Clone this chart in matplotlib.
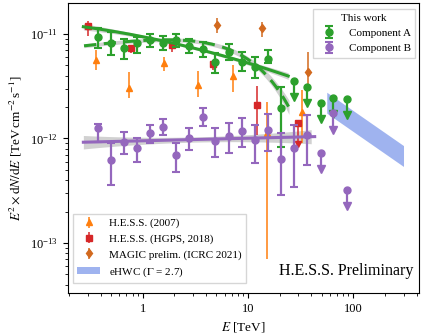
import numpy as np
import matplotlib
matplotlib.use("Agg")
from matplotlib import pyplot as plt
from matplotlib.patches import Patch

plt.rcParams['font.family'] = ['Liberation Serif', 'DejaVu Serif']
plt.rcParams['mathtext.fontset'] = 'stix'
plt.rcParams['font.size'] = 9

# ---- this work: component A (flux points, E^2 dN/dE in TeV cm^-2 s^-1)
e_a = [0.374, 0.497, 0.664, 0.877, 1.17, 1.57, 2.07, 2.77, 3.71, 4.89, 6.55, 8.77, 11.75, 15.6, 20.6]
f_a = [9.42e-12, 8.15e-12, 7.30e-12, 8.15e-12, 8.76e-12, 8.26e-12, 8.76e-12, 7.68e-12,
       7.14e-12, 5.36e-12, 6.77e-12, 5.43e-12, 4.86e-12, 5.73e-12, 1.95e-12]
f_a_hi = [1.134e-11, 1.052e-11, 8.90e-12, 9.42e-12, 1.0e-11, 9.57e-12, 1.0e-11, 8.90e-12,
          8.44e-12, 6.62e-12, 8.02e-12, 6.77e-12, 5.98e-12, 7.03e-12, 3.13e-12]
f_a_lo = [7.30e-12, 6.30e-12, 5.73e-12, 6.62e-12, 7.56e-12, 7.03e-12, 7.56e-12, 6.54e-12,
          6.06e-12, 4.26e-12, 5.64e-12, 4.43e-12, 3.77e-12, 5.24e-12, 8.2e-13]
e_a_ul = [27.5, 36.3, 49.0, 64.6, 86.5]
f_a_ul = [3.55e-12, 3.11e-12, 2.20e-12, 2.43e-12, 2.39e-12]

# ---- this work: component B
e_b = [0.374, 0.497, 0.664, 0.877, 1.17, 1.57, 2.07, 2.77, 3.71, 4.89, 6.55, 8.77, 11.75,
       15.6, 20.6, 27.5, 36.3]
f_b = [1.25e-12, 6.23e-13, 9.19e-13, 8.06e-13, 1.12e-12, 1.30e-12, 6.95e-13, 1.0e-12,
       1.62e-12, 9.53e-13, 1.06e-12, 1.19e-12, 9.68e-13, 1.21e-12, 6.32e-13, 8.06e-13, 1.08e-12]
f_b_hi = [1.38e-12, 8.99e-13, 1.147e-12, 1.0e-12, 1.35e-12, 1.53e-12, 9.12e-13, 1.25e-12,
          1.95e-12, 1.25e-12, 1.40e-12, 1.56e-12, 1.35e-12, 1.72e-12, 1.12e-12, 1.35e-12, 1.68e-12]
f_b_lo = [9.3e-13, 3.59e-13, 7.06e-13, 6.0e-13, 8.99e-13, 1.08e-12, 4.81e-13, 7.76e-13,
          1.32e-12, 6.70e-13, 7.31e-13, 8.35e-13, 5.79e-13, 7.64e-13, 2.88e-13, 3.46e-13, 5.58e-13]
e_b_ul = [49.0, 64.6, 86.5]
f_b_ul = [7.31e-13, 1.74e-12, 3.21e-13]

# ---- H.E.S.S. (2007)
e_h07 = [0.358, 0.746, 1.59, 3.37, 7.14, 15.3, 32.8]
f_h07 = [5.64e-12, 3.02e-12, 5.24e-12, 3.25e-12, 3.96e-12, 1.13e-12, 1.80e-12]
f_h07_hi = [7.03e-12, 4.36e-12, 6.06e-12, 4.45e-12, 5.05e-12, 2.25e-12, 2.91e-12]
f_h07_lo = [4.52e-12, 2.42e-12, 4.45e-12, 2.51e-12, 2.80e-12, 7.0e-14, 9.06e-13]

# ---- H.E.S.S. (HGPS, 2018)
e_hgps = [0.304, 0.769, 1.88, 4.68, 12.3]
f_hgps = [1.19e-11, 7.30e-12, 7.85e-12, 5.16e-12, 2.11e-12]
f_hgps_hi = [1.34e-11, 7.85e-12, 8.26e-12, 5.64e-12, 3.18e-12]
f_hgps_lo = [9.57e-12, 6.54e-12, 6.77e-12, 4.52e-12, 1.08e-12]
e_hgps_ul = [30.0]
f_hgps_ul = [1.42e-12]

# ---- MAGIC prelim. (ICRC 2021)
e_magic = [5.04, 13.5, 36.8]
f_magic = [1.22e-11, 1.134e-11, 4.36e-12]
f_magic_hi = [1.41e-11, 1.311e-11, 6.77e-12]
f_magic_lo = [1.029e-11, 9.42e-12, 3.25e-12]

# ---- fitted models (log10 of E^2 dN/dE)
# component A, log-parabola: a + b*logE + c*logE^2
lp_a, lp_b, lp_c = -11.026, -0.199, -0.053
lp_range = (0.273, 24.1)
# component A, cut-off power law: a + b*logE - E/Ec*log10(e)
ec_a, ec_b, ec_cut = -11.027, 0.137, 12.3
ec_range = (0.277, 24.5)
# component B, power law
pl_a, pl_b = -12.022, 0.0244
pl_range = (0.273, 43.0)
# eHWC band
hwc_f0, hwc_e0, hwc_gamma, hwc_dex = 2.2e-12, 56.0, 2.7, 0.1
hwc_range = (56.0, 300.0)

x_ticks = [1, 10, 100]
y_ticks = [1e-13, 1e-12, 1e-11]

green = '#2ca02c'
purple = '#9467bd'
red = '#d62728'
orange = '#ff7f0e'
brown = '#d2691e'
ul_frac = 0.7

fig = plt.figure(figsize=(4.24, 3.33), dpi=100)
ax = fig.add_axes([0.1592, 0.1201, 0.829, 0.8709])
ax.set_xscale('log')
ax.set_yscale('log')


def asym(f, hi, lo):
    f, hi, lo = map(np.asarray, (f, hi, lo))
    return [f - lo, hi - f]


# fit bands and lines
e = np.logspace(np.log10(lp_range[0]), np.log10(lp_range[1]), 200)
le = np.log10(e)
y = lp_a + lp_b * le + lp_c * le ** 2
w = 0.012 + 0.02 * (le - 0.4) ** 2
ax.fill_between(e, 10 ** (y - w), 10 ** (y + w), color='0.6', alpha=0.45, lw=0, zorder=2)
ax.plot(e, 10 ** y, color=green, lw=2.2, zorder=4)

e = np.logspace(np.log10(ec_range[0]), np.log10(ec_range[1]), 200)
le = np.log10(e)
y = ec_a + ec_b * le - e / ec_cut * np.log10(np.e)
w = 0.018 + 0.05 * (e / ec_range[1]) ** 2
ax.fill_between(e, 10 ** (y - w), 10 ** (y + w), color='0.6', alpha=0.45, lw=0, zorder=2)
ax.plot(e, 10 ** y, color=green, lw=2.2, ls=(0, (4, 2.5)), zorder=4)

e = np.logspace(np.log10(pl_range[0]), np.log10(pl_range[1]), 200)
le = np.log10(e)
y = pl_a + pl_b * le
w = 0.025 + 0.035 * (le - 0.5) ** 2
m = e < 40
ax.fill_between(e[m], 10 ** (y[m] - w[m]), 10 ** (y[m] + w[m]), color='0.6', alpha=0.45, lw=0, zorder=2)
ax.plot(e, 10 ** y, color=purple, lw=2.2, zorder=4)

e = np.logspace(np.log10(hwc_range[0]), np.log10(hwc_range[1]), 50)
fh = hwc_f0 * (e / hwc_e0) ** (2 - hwc_gamma)
ax.fill_between(e, fh / 10 ** hwc_dex, fh * 10 ** hwc_dex, color='royalblue', alpha=0.5, lw=0, zorder=1)
hwc_handle = Patch(color='royalblue', alpha=0.5, lw=0)

# other measurements
h07 = ax.errorbar(e_h07, f_h07, yerr=asym(f_h07, f_h07_hi, f_h07_lo), fmt='^', color=orange,
                  ms=5, elinewidth=1.1, capsize=0, zorder=3)
hgps = ax.errorbar(e_hgps, f_hgps, yerr=asym(f_hgps, f_hgps_hi, f_hgps_lo), fmt='s', color=red,
                   ms=4.5, elinewidth=1.1, capsize=0, zorder=3)
f_ul = np.asarray(f_hgps_ul)
ax.errorbar(e_hgps_ul, f_ul, yerr=[f_ul * (1 - 0.62), f_ul * 0], fmt='s', color=red,
            ms=4.5, elinewidth=1.1, capsize=0, zorder=3)
ax.plot(e_hgps_ul, f_ul * 0.62, 'v', color=red, ms=5, zorder=3)
magic = ax.errorbar(e_magic, f_magic, yerr=asym(f_magic, f_magic_hi, f_magic_lo), fmt='d', color=brown,
                    ms=4.5, elinewidth=1.1, capsize=0, zorder=3)

# this work
kw = dict(fmt='o', ms=5, elinewidth=1.6, capsize=3, capthick=1.5, zorder=3.5)
comp_a = ax.errorbar(e_a, f_a, yerr=asym(f_a, f_a_hi, f_a_lo), color=green, **kw)
comp_b = ax.errorbar(e_b, f_b, yerr=asym(f_b, f_b_hi, f_b_lo), color=purple, **kw)
for eu, fu, c in [(e_a_ul, f_a_ul, green), (e_b_ul, f_b_ul, purple)]:
    fu = np.asarray(fu)
    ax.errorbar(eu, fu, yerr=[fu * (1 - ul_frac), fu * 0], fmt='o', color=c, ms=5,
                elinewidth=1.6, capsize=0, zorder=3.5)
    ax.plot(eu, fu * ul_frac, 'v', color=c, ms=6, zorder=3.5)

ax.set_xlim(0.193, 421)
ax.set_ylim(3.32e-14, 1.98e-11)
ax.set_xticks(x_ticks)
ax.set_yticks(y_ticks)
ax.set_xlabel(r'$E$ [TeV]', fontsize=9.5)
ax.set_ylabel(r'$E^2 \times \mathrm{d}N/\mathrm{d}E$ [TeV$\,$cm$^{-2}\,$s$^{-1}$]', fontsize=9.5)
ax.xaxis.set_major_formatter(matplotlib.ticker.FuncFormatter(lambda v, p: f'{v:g}'))

ax.text(0.983, 0.062, 'H.E.S.S. Preliminary', transform=ax.transAxes, ha='right',
        va='baseline', fontsize=11.5)

leg1 = ax.legend([comp_a, comp_b], ['Component A', 'Component B'], title='This work',
                 loc='upper right', bbox_to_anchor=(0.989, 0.979), borderaxespad=0,
                 fancybox=False, edgecolor='0.8', fontsize=8, title_fontsize=8)
ax.add_artist(leg1)
ax.legend([h07, hgps, magic, hwc_handle],
          ['H.E.S.S. (2007)', 'H.E.S.S. (HGPS, 2018)', 'MAGIC prelim. (ICRC 2021)',
           r'eHWC ($\Gamma$ = 2.7)'],
          loc='lower left', bbox_to_anchor=(0.0156, 0.0345), borderaxespad=0,
          fancybox=False, edgecolor='0.8', fontsize=8)

fig.savefig('out.png', dpi=100)
